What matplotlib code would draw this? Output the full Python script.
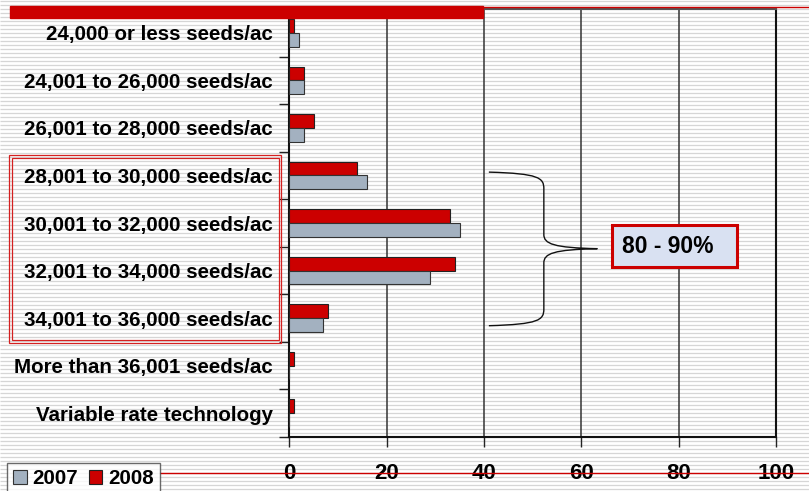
import numpy as np
import matplotlib.pyplot as plt
from matplotlib.patches import Rectangle, PathPatch
from matplotlib.path import Path
from matplotlib.lines import Line2D

plt.rcParams['font.family'] = ['Liberation Sans', 'DejaVu Sans']
plt.rcParams['font.weight'] = 'bold'

categories = [
    "24,000 or less seeds/ac",
    "24,001 to 26,000 seeds/ac",
    "26,001 to 28,000 seeds/ac",
    "28,001 to 30,000 seeds/ac",
    "30,001 to 32,000 seeds/ac",
    "32,001 to 34,000 seeds/ac",
    "34,001 to 36,000 seeds/ac",
    "More than 36,001 seeds/ac",
    "Variable rate technology",
]
pct_2007 = [2, 3, 3, 16, 35, 29, 7, 0, 0]
pct_2008 = [1, 3, 5, 14, 33, 34, 8, 1, 1]
xticks = [0, 20, 40, 60, 80, 100]

RED = "#cc0000"
GRAY = "#a3b1c0"
W, H = 809, 491

fig = plt.figure(figsize=(W / 100, H / 100), dpi=100)

# striped slide background
bg = fig.add_axes([0, 0, 1, 1], zorder=-10)
bg.set_xlim(0, W)
bg.set_ylim(H, 0)
bg.hlines(np.arange(1, H, 4), 0, W, color="#d6d6d6", lw=0.9)
bg.axis("off")

ax = fig.add_axes([289.3 / W, 1 - 437 / H, (776 - 289.3) / W, (437 - 9) / H])
ax.set_facecolor("none")

y = np.arange(len(categories))
h = 0.29
ax.barh(y - h / 2, pct_2008, height=h, color=RED, edgecolor="#222222", lw=0.8, label="2008", zorder=3)
ax.barh(y + h / 2, pct_2007, height=h, color=GRAY, edgecolor="#333333", lw=0.8, label="2007", zorder=3)

ax.set_xlim(0, 100)
ax.set_ylim(len(categories) - 0.5, -0.5)

ax.set_yticks(np.arange(-0.5, len(categories)), labels=[])
ax.set_yticks(y, labels=categories, minor=True)
ax.tick_params(axis="y", which="major", direction="out", length=7, width=1, color="#222222")
ax.tick_params(axis="y", which="minor", length=0, pad=12, labelsize=14.8)

ax.set_xticks(xticks, labels=[str(v) for v in xticks])
ax.tick_params(axis="x", direction="out", length=7, width=1, pad=12, labelsize=16, color="#222222")

for v in xticks[1:-1]:
    ax.axvline(v, color="#333333", lw=1.1, zorder=1)
for side in ["left", "bottom", "right"]:
    ax.spines[side].set_color("#111111")
    ax.spines[side].set_linewidth(1.5)
ax.spines["top"].set_color("#555555")
ax.spines["top"].set_linewidth(1.5)

# brace pointing to the 80 - 90% box
x0, xm, xt = 41, 52.3, 63.3
y0, y1, ym = 2.93, 6.16, 4.54
verts = [(x0, y0), (xm - 1, y0 + 0.03), (xm, y0 + 0.12), (xm, y0 + 0.35),
         (xm, ym - 0.3),
         (xm, ym - 0.1), (xm + 2, ym - 0.02), (xt, ym),
         (xm + 2, ym + 0.02), (xm, ym + 0.1), (xm, ym + 0.3),
         (xm, y1 - 0.35),
         (xm, y1 - 0.12), (xm - 1, y1 - 0.03), (x0, y1)]
codes = [Path.MOVETO, Path.CURVE4, Path.CURVE4, Path.CURVE4,
         Path.LINETO,
         Path.CURVE4, Path.CURVE4, Path.CURVE4,
         Path.CURVE4, Path.CURVE4, Path.CURVE4,
         Path.LINETO,
         Path.CURVE4, Path.CURVE4, Path.CURVE4]
ax.add_patch(PathPatch(Path(verts, codes), fill=False, lw=1, color="#111111", zorder=4))

ax.add_patch(Rectangle((66.3, 4.04), 25.6, 0.88, facecolor="#d9e1f2", edgecolor=RED, lw=2.2, zorder=5))
ax.text(68.4, 4.5, "80 - 90%", fontsize=16.5, fontweight="bold", va="center", ha="left", zorder=6)

# decorations in pixel coordinates
def fx(px):
    return px / W

def fy(py):
    return 1 - py / H

fig.patches.append(Rectangle((fx(10), fy(18)), fx(483) - fx(10), fy(6) - fy(18),
                             transform=fig.transFigure, color=RED, zorder=2))
fig.lines.append(Line2D([fx(483), fx(809)], [fy(6.5), fy(6.5)], transform=fig.transFigure, color=RED, lw=1))
fig.lines.append(Line2D([fx(160), fx(809)], [fy(473), fy(473)], transform=fig.transFigure, color=RED, lw=1, zorder=0))
for (l, t, r, b) in [(8.5, 155, 281.5, 343), (11.5, 158.3, 278.5, 340)]:
    fig.patches.append(Rectangle((fx(l), fy(b)), fx(r) - fx(l), fy(t) - fy(b), transform=fig.transFigure,
                                 fill=False, edgecolor="#d42020", lw=0.9))

handles, labels = ax.get_legend_handles_labels()
leg = fig.legend(handles[::-1], labels[::-1], loc="upper left", bbox_to_anchor=(fx(7), fy(463)),
                 ncol=2, fontsize=14.8, frameon=True, fancybox=False, edgecolor="#444444",
                 handlelength=0.65, handleheight=0.65, handletextpad=0.3, columnspacing=0.5,
                 borderpad=0.3, borderaxespad=0)
leg.get_frame().set_linewidth(1)
leg.get_frame().set_facecolor("white")

fig.savefig("out.png", dpi=100)
